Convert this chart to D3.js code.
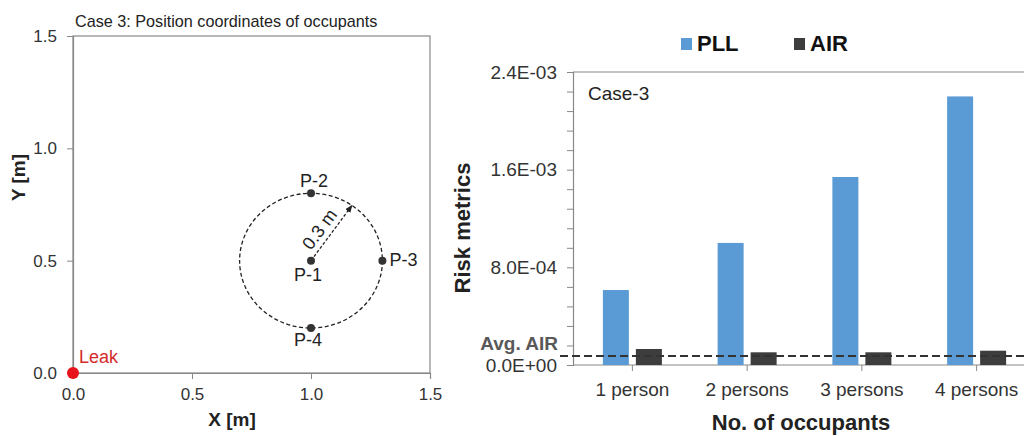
<!DOCTYPE html>
<html>
<head>
<meta charset="utf-8">
<title>Case 3</title>
<script src="https://d3js.org/d3.v7.min.js"></script>
<style>
  body { margin: 0; background: #fff; }
  svg { display: block; font-family: Arial, "Liberation Sans", sans-serif; }
</style>
</head>
<body>
<script>
  // left panel: occupant positions
  var occupants = ["P-1", "P-2", "P-3", "P-4"]
  var occX = [1.0, 1.0, 1.3, 1.0]
  var occY = [0.5, 0.8, 0.5, 0.2]
  var leak = { x: 0, y: 0 }
  var radius = 0.3
  var posTicks = [0, 0.5, 1.0, 1.5]

  // right panel: risk metrics
  var categories = ["1 person", "2 persons", "3 persons", "4 persons"]
  var pll = [6.14e-4, 1.0e-3, 1.54e-3, 2.2e-3]
  var air = [1.31e-4, 1.04e-4, 1.04e-4, 1.17e-4]
  var avgAir = 7.4e-5
  var riskTicks = [0, 8e-4, 1.6e-3, 2.4e-3]

  var W = 1024, H = 436
  var FONT = "Arial, 'Liberation Sans', sans-serif"
  var svg = d3.select("body").append("svg").attr("width", W).attr("height", H)

  // ---------- left chart ----------
  var x1 = d3.scaleLinear().domain([0, 1.5]).range([73, 430])
  var y1 = d3.scaleLinear().domain([0, 1.5]).range([373, 36])
  var axisCol = "#888"

  var gL = svg.append("g")
  gL.append("rect").attr("x", x1(0)).attr("y", y1(1.5))
    .attr("width", x1(1.5) - x1(0)).attr("height", y1(0) - y1(1.5))
    .attr("fill", "none").attr("stroke", axisCol).attr("stroke-width", 1.2)

  var ax1 = gL.append("g").attr("transform", `translate(0,${y1(0)})`)
    .call(d3.axisBottom(x1).tickValues(posTicks).tickFormat(d3.format(".1f")).tickSize(6).tickPadding(9))
  var ay1 = gL.append("g").attr("transform", `translate(${x1(0)},0)`)
    .call(d3.axisLeft(y1).tickValues(posTicks).tickFormat(d3.format(".1f")).tickSize(6).tickPadding(10))
  ;[ax1, ay1].forEach(a => {
    a.select(".domain").attr("stroke", axisCol).attr("stroke-width", 1.2)
    a.selectAll(".tick line").attr("stroke", axisCol)
    a.selectAll("text").attr("font-size", 17).attr("fill", "#333").attr("font-family", FONT)
  })
  ax1.selectAll(".tick").filter(d => d === 0).select("line").remove()

  gL.append("text").attr("x", 75).attr("y", 27).attr("font-size", 16.2).attr("fill", "#222")
    .text("Case 3: Position coordinates of occupants")
  gL.append("text").attr("x", 232).attr("y", 426).attr("text-anchor", "middle")
    .attr("font-size", 19).attr("font-weight", "bold").attr("fill", "#222").text("X [m]")
  gL.append("text").attr("transform", `translate(25,177.5) rotate(-90)`).attr("text-anchor", "middle")
    .attr("font-size", 19).attr("font-weight", "bold").attr("fill", "#222").text("Y [m]")

  // dashed circle around P-1
  var cx = occX[0], cy = occY[0]
  gL.append("ellipse").attr("cx", x1(cx)).attr("cy", y1(cy))
    .attr("rx", x1(cx + radius) - x1(cx)).attr("ry", y1(cy) - y1(cy + radius))
    .attr("fill", "none").attr("stroke", "#222").attr("stroke-width", 1.3).attr("stroke-dasharray", "4,2.5")

  // radius arrow
  var ang = 55 * Math.PI / 180
  var ex = cx + radius * Math.cos(ang), ey = cy + radius * Math.sin(ang)
  svg.append("defs").append("marker").attr("id", "arr").attr("viewBox", "0 0 10 10")
    .attr("refX", 9).attr("refY", 5).attr("markerWidth", 6).attr("markerHeight", 6).attr("orient", "auto")
    .append("path").attr("d", "M0,1L10,5L0,9z").attr("fill", "#222")
  gL.append("line").attr("x1", x1(cx)).attr("y1", y1(cy)).attr("x2", x1(ex)).attr("y2", y1(ey))
    .attr("stroke", "#222").attr("stroke-width", 1.3).attr("stroke-dasharray", "3,2").attr("marker-end", "url(#arr)")
  var dx = x1(ex) - x1(cx), dy = y1(ey) - y1(cy), len = Math.hypot(dx, dy)
  var ux = dx / len, uy = dy / len
  var mx = (x1(cx) + x1(ex)) / 2 + 12 * uy - 4 * ux
  var my = (y1(cy) + y1(ey)) / 2 - 12 * ux - 4 * uy
  var pixAng = Math.atan2(dy, dx) * 180 / Math.PI
  gL.append("text").attr("transform", `translate(${mx},${my}) rotate(${pixAng})`).attr("dy", "0.35em")
    .attr("text-anchor", "middle").attr("font-size", 18).attr("fill", "#222").text("0.3 m")

  // occupant points
  var occData = occupants.map((n, i) => ({ name: n, x: occX[i], y: occY[i] }))
  gL.selectAll("circle.occ").data(occData).enter().append("circle").attr("class", "occ")
    .attr("cx", d => x1(d.x)).attr("cy", d => y1(d.y)).attr("r", 4).attr("fill", "#333")
  var labelOff = { "P-1": [-3, 20, "middle"], "P-2": [3, -6, "middle"], "P-3": [7, 5.5, "start"], "P-4": [-3, 18, "middle"] }
  gL.selectAll("text.occ").data(occData).enter().append("text").attr("class", "occ")
    .attr("x", d => x1(d.x) + labelOff[d.name][0]).attr("y", d => y1(d.y) + labelOff[d.name][1])
    .attr("text-anchor", d => labelOff[d.name][2]).attr("font-size", 18).attr("fill", "#222").text(d => d.name)

  // leak
  gL.append("circle").attr("cx", x1(leak.x)).attr("cy", y1(leak.y)).attr("r", 6).attr("fill", "#e8141b")
  gL.append("text").attr("x", x1(leak.x) + 6).attr("y", y1(leak.y) - 10).attr("font-size", 18)
    .attr("fill", "#d42a2a").text("Leak")

  // ---------- right chart ----------
  var x2 = d3.scaleBand().domain(categories).range([575, 1034])
  var y2 = d3.scaleLinear().domain([0, 2.4e-3]).range([365, 72])
  var barW = 26, gap = 7

  var gR = svg.append("g")
  gR.append("line").attr("x1", 573).attr("x2", W).attr("y1", y2(2.4e-3)).attr("y2", y2(2.4e-3))
    .attr("stroke", axisCol).attr("stroke-width", 1.2)

  var minor = d3.range(0, 2.4e-3 + 1e-9, 1.6e-4)
  var sci = d => d3.format(".1e")(d).replace("e", "E").replace(/E([+-])(\d)$/, "E$10$2")
  var ay2 = gR.append("g").attr("transform", `translate(573,0)`)
    .call(d3.axisLeft(y2).tickValues(minor).tickSize(6).tickPadding(10)
      .tickFormat(d => riskTicks.some(t => Math.abs(t - d) < 1e-9) ? sci(d) : ""))
  var ax2 = gR.append("g").attr("transform", `translate(0,${y2(0)})`)
    .call(d3.axisBottom(x2).tickSize(6).tickPadding(12).tickSizeOuter(0))
  ;[ax2, ay2].forEach(a => {
    a.select(".domain").attr("stroke", axisCol).attr("stroke-width", 1.2)
    a.selectAll(".tick line").attr("stroke", axisCol)
    a.selectAll("text").attr("font-size", 19).attr("fill", "#333").attr("font-family", FONT)
  })
  ax2.select(".domain").attr("d", `M573,0H${W}`)

  var barData = categories.map((c, i) => ({ c, pll: pll[i], air: air[i] }))
  gR.selectAll("rect.pll").data(barData).enter().append("rect").attr("class", "pll")
    .attr("x", d => x2(d.c) + x2.bandwidth() / 2 - gap / 2 - barW).attr("width", barW)
    .attr("y", d => y2(d.pll)).attr("height", d => y2(0) - y2(d.pll)).attr("fill", "#5b9bd5")
  gR.selectAll("rect.air").data(barData).enter().append("rect").attr("class", "air")
    .attr("x", d => x2(d.c) + x2.bandwidth() / 2 + gap / 2).attr("width", barW)
    .attr("y", d => y2(d.air)).attr("height", d => y2(0) - y2(d.air)).attr("fill", "#3d3d3d")

  // average AIR line
  gR.append("line").attr("x1", 560).attr("x2", W).attr("y1", y2(avgAir)).attr("y2", y2(avgAir))
    .attr("stroke", "#333").attr("stroke-width", 2).attr("stroke-dasharray", "8,4")
  gR.append("text").attr("x", 558).attr("y", 350).attr("text-anchor", "end").attr("font-size", 19)
    .attr("font-weight", "bold").attr("fill", "#595959").text("Avg. AIR")

  gR.append("text").attr("x", 588).attr("y", 100).attr("font-size", 19).attr("fill", "#222").text("Case-3")

  gR.append("text").attr("transform", `translate(470,228) rotate(-90)`).attr("text-anchor", "middle")
    .attr("font-size", 22).attr("font-weight", "bold").attr("fill", "#222").text("Risk metrics")
  gR.append("text").attr("x", 801).attr("y", 430).attr("text-anchor", "middle")
    .attr("font-size", 22).attr("font-weight", "bold").attr("fill", "#222").text("No. of occupants")

  // legend
  var legend = [{ name: "PLL", col: "#5b9bd5", x: 681 }, { name: "AIR", col: "#3d3d3d", x: 794 }]
  var lg = gR.selectAll("g.lg").data(legend).enter().append("g").attr("class", "lg")
    .attr("transform", d => `translate(${d.x},38)`)
  lg.append("rect").attr("width", 11).attr("height", 12).attr("fill", d => d.col)
  lg.append("text").attr("x", 16).attr("y", 13).attr("font-size", 22).attr("font-weight", "bold")
    .attr("fill", "#111").text(d => d.name)
</script>
</body>
</html>
